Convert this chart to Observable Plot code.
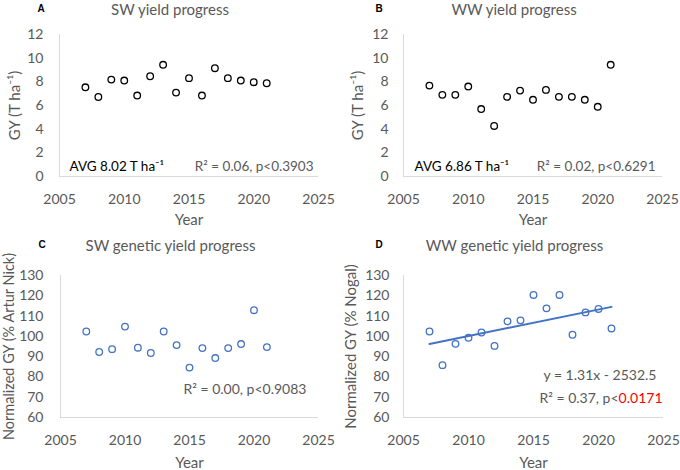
<!DOCTYPE html>
<html>
<head>
<meta charset="utf-8">
<script src="https://cdn.jsdelivr.net/npm/d3@7"></script>
<script src="https://cdn.jsdelivr.net/npm/@observablehq/plot@0.6"></script>
<style>
  html, body { margin: 0; padding: 0; background: #fff; }
  #wrap { position: relative; width: 680px; height: 470px; font-family: Lato, "Open Sans", sans-serif; }
  .panel { position: absolute; width: 340px; height: 235px; }
  .panel svg { display: block; }
</style>
</head>
<body>
<div id="wrap"></div>
<script>
// ---- data ----
const years = [2007, 2008, 2009, 2010, 2011, 2012, 2013, 2014, 2015, 2016, 2017, 2018, 2019, 2020, 2021];
const swYield = [7.54, 6.72, 8.19, 8.11, 6.84, 8.47, 9.44, 7.09, 8.31, 6.84, 9.15, 8.31, 8.11, 7.97, 7.88];
const wwYield = [7.68, 6.90, 6.90, 7.60, 5.70, 4.27, 6.73, 7.26, 6.48, 7.32, 6.73, 6.73, 6.48, 5.89, 9.44];
const swGenetic = [102.4, 92.3, 93.7, 104.8, 94.4, 91.8, 102.4, 95.7, 84.6, 94.2, 89.3, 94.2, 96.2, 112.9, 94.7];
const wwGenetic = [102.4, 85.8, 96.3, 99.3, 101.9, 95.3, 107.4, 107.9, 120.4, 113.8, 120.4, 100.8, 111.8, 113.5, 103.9];
const xTicks = [2005, 2010, 2015, 2020, 2025];
const yTicksAB = [0, 2, 4, 6, 8, 10, 12];
const yTicksCD = [60, 70, 80, 90, 100, 110, 120, 130];

const panelTitles = ["SW yield progress", "WW yield progress", "SW genetic yield progress", "WW genetic yield progress"];
const panelLetters = ["A", "B", "C", "D"];
const yLabels = ["GY (T ha\u207B\u00B9)", "GY (T ha\u207B\u00B9)", "Normalized GY (% Artur Nick)", "Normalized GY (% Nogal)"];
const avgLabels = ["AVG 8.02 T ha\u207B\u00B9", "AVG 6.86 T ha\u207B\u00B9", null, null];
const statLabels = ["R\u00B2 = 0.06, p<0.3903", "R\u00B2 = 0.02, p<0.6291", "R\u00B2 = 0.00, p<0.9083", "R\u00B2 = 0.37, p<"];
const pRed = "0.0171";
const eqLabel = "y = 1.31x - 2532.5";

const GRAY = "#595959";
const AXIS = "#d9d9d9";
const BLUE = "#4472c4";
const FONT = "Lato, 'Open Sans', sans-serif";

const configs = [
  {left: 0, top: 0, values: swYield, yDomain: [0, 12], yTicks: yTicksAB, color: "black",
   m: {l: 59, r: 22, t: 34, b: 59}, pad: 16, ylabX: 15},
  {left: 340, top: 0, values: wwYield, yDomain: [0, 12], yTicks: yTicksAB, color: "black",
   m: {l: 63, r: 18, t: 34, b: 59}, pad: 15, ylabX: 18},
  {left: 0, top: 235, values: swGenetic, yDomain: [60, 130], yTicks: yTicksCD, color: BLUE,
   m: {l: 60, r: 22, t: 40, b: 53}, pad: 17, ylabX: 9},
  {left: 340, top: 235, values: wwGenetic, yDomain: [60, 130], yTicks: yTicksCD, color: BLUE,
   m: {l: 63, r: 17, t: 40, b: 53}, pad: 14, ylabX: 11, trend: true}
];

const wrap = document.getElementById("wrap");

configs.forEach((c, i) => {
  const data = years.map((yr, k) => ({year: yr, value: c.values[k]}));
  const marks = [
    Plot.ruleX([xTicks[0]], {stroke: AXIS, strokeWidth: 1}),
    Plot.ruleY([c.yDomain[0]], {stroke: AXIS, strokeWidth: 1}),
    Plot.axisX({ticks: xTicks, tickSize: 0, tickPadding: 18, tickFormat: d => String(d), fill: GRAY, fontSize: 14, label: null}),
    Plot.axisY({ticks: c.yTicks, tickSize: 0, tickPadding: c.pad, fill: GRAY, fontSize: 14, label: null}),
    Plot.dot(data, {x: "year", y: "value", r: 3.3, stroke: c.color, strokeWidth: 1.3, fill: "white"}),
    // title
    Plot.text([panelTitles[i]], {frameAnchor: "top", dx: -19, dy: i < 2 ? -24 : -29, lineAnchor: "middle", fill: GRAY, fontSize: 15, text: d => d}),
    // letter
    Plot.text([panelLetters[i]], {frameAnchor: "top-left", dx: i % 2 ? -28 : -22, dy: i < 2 ? -26 : -31, lineAnchor: "middle", fill: "black", fontSize: 10, fontWeight: "bold", fontFamily: "Liberation Sans, Arial, sans-serif", text: d => d}),
    // y label
    Plot.text([yLabels[i]], {frameAnchor: "left", dx: c.ylabX - c.m.l, textAnchor: "middle", lineAnchor: "middle", rotate: -90, fill: GRAY, fontSize: i === 2 ? 14.5 : 15, text: d => d}),
    // x label
    Plot.text(["Year"], {frameAnchor: "bottom", dy: i < 2 ? 44 : 46, textAnchor: "middle", lineAnchor: "middle", fill: GRAY, fontSize: 15, text: d => d})
  ];
  if (c.trend) {
    marks.push(Plot.linearRegressionY(data, {x: "year", y: "value", stroke: BLUE, strokeWidth: 2, ci: 0}));
  }
  if (avgLabels[i]) {
    marks.push(Plot.text([avgLabels[i]], {frameAnchor: "bottom-left", dx: i % 2 ? 11 : 10, dy: -10, lineAnchor: "middle", fill: "black", fontSize: 13.5, textAnchor: "start", text: d => d}));
  }
  if (i < 2) {
    marks.push(Plot.text([statLabels[i]], {frameAnchor: "bottom-right", dx: i % 2 ? -7 : -5, dy: -10, lineAnchor: "middle", fill: GRAY, fontSize: 13.5, textAnchor: "end", text: d => d}));
  } else if (i === 2) {
    marks.push(Plot.text([statLabels[i]], {frameAnchor: "bottom-right", dx: -12, dy: -28, lineAnchor: "middle", fill: GRAY, fontSize: 14, textAnchor: "end", text: d => d}));
  } else {
    marks.push(Plot.text([eqLabel], {frameAnchor: "bottom-right", dx: -7, dy: -42, lineAnchor: "middle", fill: GRAY, fontSize: 14, textAnchor: "end", text: d => d}));
    marks.push(Plot.text([statLabels[i] + pRed], {frameAnchor: "bottom-right", dx: -1, dy: -19, lineAnchor: "middle", fill: GRAY, fontSize: 14, textAnchor: "end", text: d => d, className: "pstat"}));
  }

  const chart = Plot.plot({
    width: 340,
    height: 235,
    marginLeft: c.m.l,
    marginRight: c.m.r,
    marginTop: c.m.t,
    marginBottom: c.m.b,
    style: {fontFamily: FONT, background: "white", overflow: "visible"},
    x: {domain: [xTicks[0], xTicks[xTicks.length - 1]]},
    y: {domain: c.yDomain},
    marks
  });
  const div = document.createElement("div");
  div.className = "panel";
  div.style.left = c.left + "px";
  div.style.top = c.top + "px";
  div.appendChild(chart);
  wrap.appendChild(div);

  if (i === 3) {
    d3.select(chart).selectAll("g.pstat text").each(function() {
      const t = d3.select(this);
      t.text(null);
      t.append("tspan").text(statLabels[3]);
      t.append("tspan").attr("fill", "#ff0000").text(pRed);
    });
  }
});
</script>
</body>
</html>
